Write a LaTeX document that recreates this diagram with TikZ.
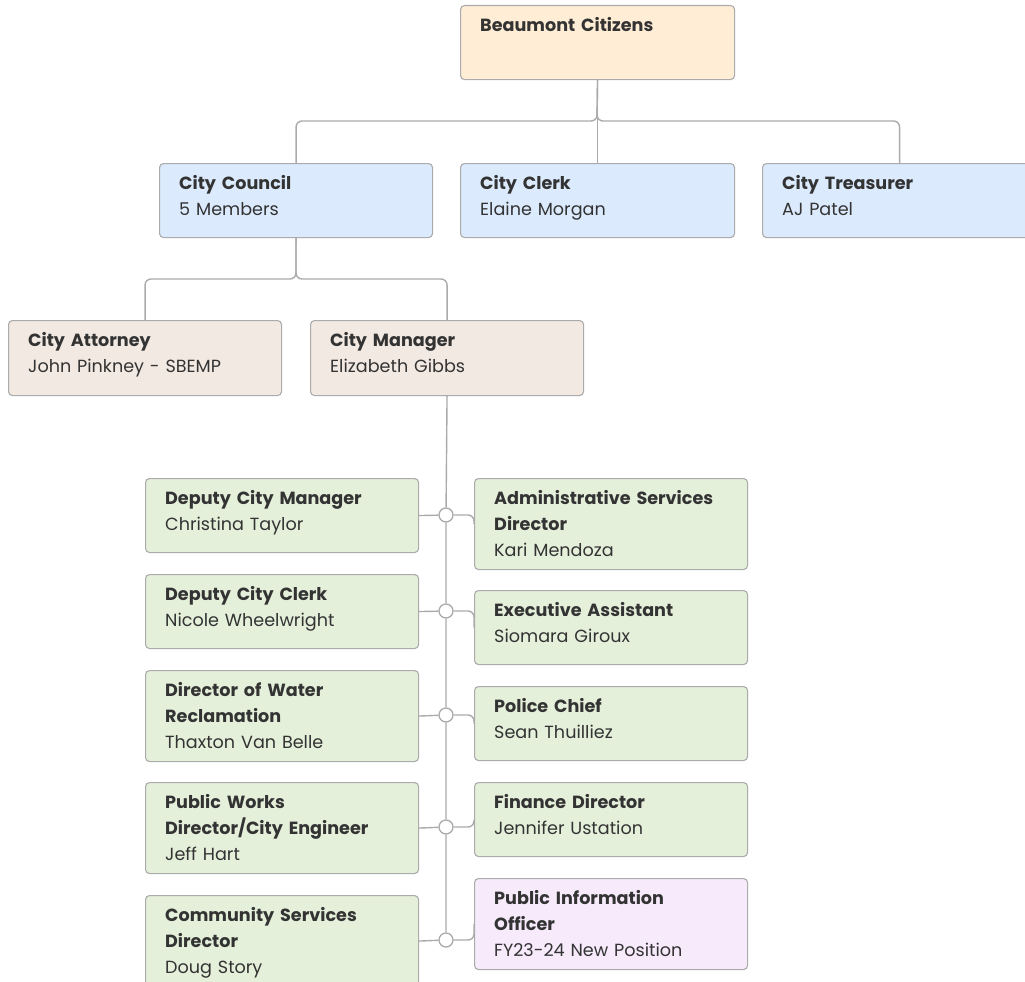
\documentclass[tikz,border=0pt]{standalone}
\usepackage{fontspec}
\setmainfont{Poppins}
\usetikzlibrary{calc}
\definecolor{ink}{HTML}{333333}
\definecolor{edge}{HTML}{ABABAB}
\definecolor{peach}{HTML}{FFEDD5}
\definecolor{sky}{HTML}{DBEBFD}
\definecolor{sand}{HTML}{F2E9E2}
\definecolor{sage}{HTML}{E5F0DB}
\definecolor{lilac}{HTML}{F6EAFB}
\tikzset{
	box/.style={draw=edge, line width=1.1pt, rounded corners=4pt, anchor=north west, inner sep=0pt},
	lbl/.style={anchor=base west, inner sep=0pt, text width=250pt, align=left, text=ink, font=\fontsize{17.6}{26}\selectfont},
	conn/.style={draw=edge, line width=1.4pt, rounded corners=6pt},
	dot/.style={circle, draw=edge, line width=1.3pt, fill=white, minimum size=14pt, inner sep=0pt}
}
\def\orgbox(#1)(#2,#3)(#4x#5)[#6]#7{\node[box, fill=#6, minimum width=#4pt, minimum height=#5pt] (#1) at (#2,#3) {};
	\node[lbl] (#1-t) at ($(#1.north west)+(20,26.5)$) {#7};}

\begin{document}
\begin{tikzpicture}[x=1pt, y=-1pt]
		%%%%% START %%%%%
		\useasboundingbox (0,0) rectangle (1025,982);
		
		\orgbox(citizens)(460,5)(274x74)[peach]{\textbf{Beaumont Citizens}}
		
		\orgbox(council)(159,163)(273x74)[sky]{\textbf{City Council}\\5 Members}
		\orgbox(clerk)(460,163)(274x74)[sky]{\textbf{City Clerk}\\Elaine Morgan}
		\orgbox(treasurer)(762,163)(274x74)[sky]{\textbf{City Treasurer}\\AJ Patel}
		
		\orgbox(attorney)(8,320)(273x75)[sand]{\textbf{City Attorney}\\John Pinkney - SBEMP}
		\orgbox(manager)(310,320)(273x75)[sand]{\textbf{City Manager}\\Elizabeth Gibbs}
		
		\orgbox(depmgr)(145,478)(273x74)[sage]{\textbf{Deputy City Manager}\\Christina Taylor}
		\orgbox(depclerk)(145,574)(273x74)[sage]{\textbf{Deputy City Clerk}\\Nicole Wheelwright}
		\orgbox(water)(145,670)(273x91)[sage]{\textbf{Director of Water}\\\textbf{Reclamation}\\Thaxton Van Belle}
		\orgbox(works)(145,782)(273x91)[sage]{\textbf{Public Works}\\\textbf{Director/City Engineer}\\Jeff Hart}
		\orgbox(community)(145,895)(273x91)[sage]{\textbf{Community Services}\\\textbf{Director}\\Doug Story}
		
		\orgbox(admin)(474,478)(273x91)[sage]{\textbf{Administrative Services}\\\textbf{Director}\\Kari Mendoza}
		\orgbox(assistant)(474,590)(273x74)[sage]{\textbf{Executive Assistant}\\Siomara Giroux}
		\orgbox(police)(474,686)(273x74)[sage]{\textbf{Police Chief}\\Sean Thuilliez}
		\orgbox(finance)(474,782)(273x74)[sage]{\textbf{Finance Director}\\Jennifer Ustation}
		\orgbox(info)(474,878)(273x91)[lilac]{\textbf{Public Information}\\\textbf{Officer}\\FY23-24 New Position}
		
		% top level
		\coordinate (j1) at (597,121);
		\draw[conn] (citizens.south) -- (clerk.north);
		\draw[conn] (citizens.south) -- (j1) -| (council.north);
		\draw[conn] (citizens.south) -- (j1) -| (treasurer.north);
		
		% council
		\coordinate (j2) at (296,279);
		\draw[conn] (council.south) -- (j2) -| (attorney.north);
		\draw[conn] (council.south) -- (j2) -| (manager.north);
		
		% manager staff
		\node[dot] (d1) at (446,515) {};
		\node[dot] (d2) at (446,611) {};
		\node[dot] (d3) at (446,715) {};
		\node[dot] (d4) at (446,827) {};
		\node[dot] (d5) at (446,940) {};
		\draw[conn] (manager.south) -- (d1) -- (d2) -- (d3) -- (d4) -- (d5);
		
		\draw[conn] (depmgr.east) -- (d1);
		\draw[conn] (depclerk.east) -- (d2);
		\draw[conn] (water.east) -- (d3);
		\draw[conn] (works.east) -- (d4);
		\draw[conn] (community.east) -- (d5);
		
		\draw[conn] (d1) -| (admin.west);
		\draw[conn] (d2) -| (assistant.west);
		\draw[conn] (d3) -| (police.west);
		\draw[conn] (d4) -| (finance.west);
		\draw[conn] (d5) -| (info.west);
		
		%%%%% END %%%%%
	\end{tikzpicture}
\end{document}
